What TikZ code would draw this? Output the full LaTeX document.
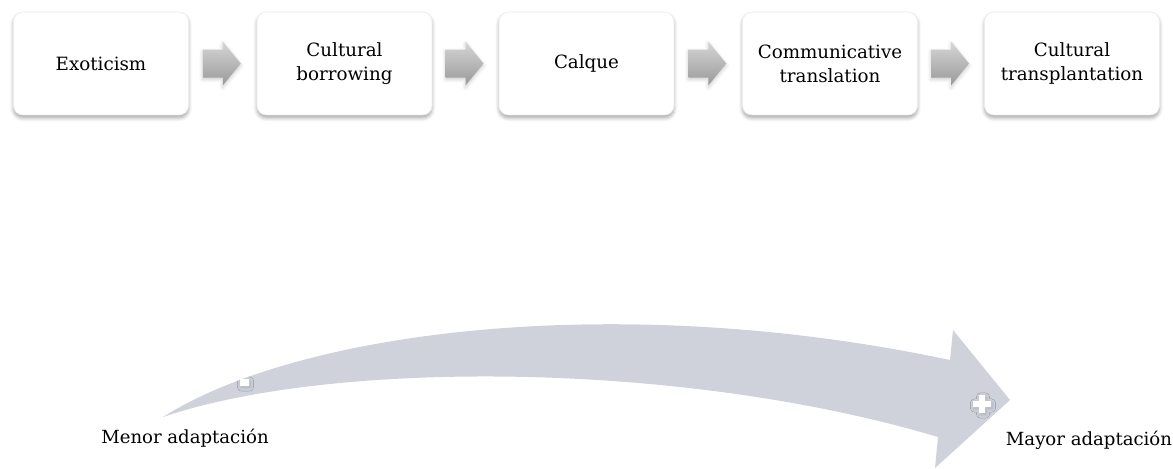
\documentclass[tikz,border=0pt]{standalone}
\usepackage{fontspec}
\setmainfont{DejaVu Serif}
\usetikzlibrary{calc,shadows.blur}
\definecolor{bandfill}{RGB}{207,210,219}
\begin{document}
\begin{tikzpicture}[x=0.02cm,y=-0.02cm,
  stage/.style={rounded corners=0.19cm, minimum width=3.5cm, minimum height=2.06cm,
    fill=white, draw=black!7, inner sep=0pt, align=center,
    font=\fontsize{10.4}{13.6}\selectfont,
    blur shadow={shadow xshift=0pt, shadow yshift=-0.06cm, shadow opacity=35, shadow blur steps=6}},
  stepflow/.style={top color=black!16, bottom color=black!40,
    blur shadow={shadow xshift=0pt, shadow yshift=-0.04cm, shadow opacity=20, shadow blur steps=4}},
  endlabel/.style={inner sep=0pt, font=\fontsize{10.3}{12}\selectfont},
  sign/.style={fill=white, blur shadow={shadow xshift=0.02cm, shadow yshift=-0.03cm, shadow opacity=18, shadow blur steps=3}}]
\useasboundingbox (0,0) rectangle (1173,468);

% stages of the scale
\node[stage] (s1) at (101,63.5) {Exoticism};
\node[stage] (s2) at (344.5,63.5) {Cultural\\borrowing};
\node[stage] (s3) at (586.5,63.5) {Calque};
\node[stage] (s4) at (830,63.5) {Communicative\\translation};
\node[stage] (s5) at (1072,63.5) {Cultural\\transplantation};

% block arrows between consecutive stages
\foreach \a/\b in {s1/s2,s2/s3,s3/s4,s4/s5} {
  \coordinate (m) at ($(\a.east)!0.5!(\b.west)$);
  \shade[stepflow] ([shift={(-20,-14)}]m) -- ++(20,0) -- ++(0,-8) -- ++(18,22)
    -- ++(-18,22) -- ++(0,-8) -- ++(-20,0) -- cycle;
}

% curved band from less to more adaptation
\fill[bandfill] (163,417) .. controls (300,330) and (620,290) .. (950,360)
  -- (953,330) -- (1010,400) -- (935,468) -- (938,437)
  .. controls (680,360) and (330,360) .. (163,417) -- cycle;

% minus and plus marks on the band
\fill[sign, rounded corners=0.01cm] (240,379) rectangle (249,386);
\fill[sign, rounded corners=0.01cm] (973,401) -- (979,401) -- (979,395) -- (985,395) -- (985,401)
  -- (991,401) -- (991,407) -- (985,407) -- (985,413) -- (979,413) -- (979,407) -- (973,407) -- cycle;

\node[endlabel] (lo) at (185,438) {Menor adaptación};
\node[endlabel] (hi) at (1089,440) {Mayor adaptación};
\end{tikzpicture}
\end{document}
